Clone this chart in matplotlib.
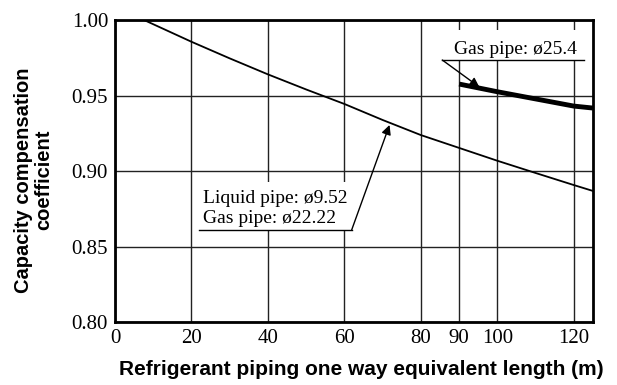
import matplotlib
matplotlib.use("Agg")
import matplotlib.pyplot as plt
from matplotlib.patches import Rectangle

# pipe length (m) vs capacity compensation coefficient
liquid_x = [7.6, 20, 30, 40, 50, 60, 70, 80, 90, 100, 110, 120, 125]
liquid_y = [1.000, 0.9856, 0.9746, 0.9640, 0.9540, 0.9444, 0.9338, 0.9238,
            0.9153, 0.9068, 0.8987, 0.8907, 0.8868]

gas254_x = [90, 100, 120, 125]
gas254_y = [0.9576, 0.9525, 0.943, 0.9417]

x_ticks = [0, 20, 40, 60, 80, 90, 100, 120]
y_ticks = [0.80, 0.85, 0.90, 0.95, 1.00]

serif = ["Liberation Serif", "DejaVu Serif"]
sans = ["Liberation Sans", "DejaVu Sans"]

fig = plt.figure(figsize=(6.17, 3.85), dpi=100)
ax = fig.add_axes([0.1864, 0.1636, 0.7746, 0.7844])

ax.set_xlim(0, 125)
ax.set_ylim(0.80, 1.00)
ax.set_xticks(x_ticks)
ax.set_yticks(y_ticks)
ax.set_xticklabels([str(v) for v in x_ticks], family=serif, fontsize=15)
ax.set_yticklabels([f"{v:.2f}" for v in y_ticks], family=serif, fontsize=15)
ax.tick_params(axis="x", length=0, pad=5)
ax.tick_params(axis="y", length=0, pad=5)
ax.grid(True, color="#222222", linewidth=1.0)
for s in ax.spines.values():
    s.set_linewidth(2.0)
    s.set_zorder(5)

# blank patches behind the annotation text
ax.add_patch(Rectangle((21.9, 0.861), 40.0, 0.032, facecolor="white",
                       edgecolor="none", zorder=1.8))
ax.add_patch(Rectangle((85.6, 0.9735), 37.1, 0.020, facecolor="white",
                       edgecolor="none", zorder=1.8))

ax.plot(liquid_x, liquid_y, color="black", linewidth=1.3, zorder=3)
ax.plot(gas254_x, gas254_y, color="black", linewidth=3.5, zorder=3,
        solid_capstyle="butt")

# liquid pipe label with underline and leader arrow
ax.text(23.0, 0.8785, "Liquid pipe: ø9.52", family=serif, fontsize=14, zorder=4)
ax.text(23.0, 0.8655, "Gas pipe: ø22.22", family=serif, fontsize=14, zorder=4)
ax.plot([21.9, 61.9], [0.861, 0.861], color="black", linewidth=1.0, zorder=4)
ax.annotate("", xy=(71.8, 0.9305), xytext=(61.9, 0.861),
            arrowprops=dict(arrowstyle="-|>", color="black", lw=1.0,
                            mutation_scale=14, shrinkA=0, shrinkB=0),
            zorder=4)

# gas pipe 25.4 label
ax.text(88.6, 0.9775, "Gas pipe: ø25.4", family=serif, fontsize=14, zorder=4)
ax.plot([85.6, 122.7], [0.9735, 0.9735], color="black", linewidth=1.0, zorder=4)
ax.annotate("", xy=(95.3, 0.9556), xytext=(85.6, 0.9735),
            arrowprops=dict(arrowstyle="-|>", color="black", lw=1.0,
                            mutation_scale=14, shrinkA=0, shrinkB=0),
            zorder=4)

ax.set_xlabel("Refrigerant piping one way equivalent length (m)",
              family=sans, fontweight="bold", fontsize=15)
ax.xaxis.set_label_coords(0.515, -0.125)
ax.text(-0.171, 0.47, "Capacity compensation\ncoefficient", transform=ax.transAxes,
        family=sans, fontweight="bold", fontsize=14.5, rotation=90,
        ha="center", va="center", linespacing=1.1)

fig.savefig("out.png", dpi=100)
